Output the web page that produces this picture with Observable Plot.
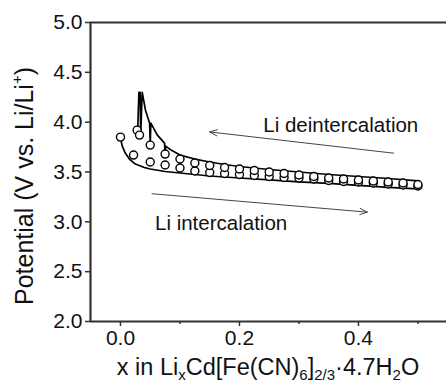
<!DOCTYPE html>
<html>
<head>
<meta charset="utf-8">
<script src="https://cdn.jsdelivr.net/npm/d3@7"></script>
<script src="https://cdn.jsdelivr.net/npm/@observablehq/plot@0.6"></script>
<style>
  html, body { margin: 0; padding: 0; background: #fff; }
  #chart svg { display: block; }
</style>
</head>
<body>
<div id="chart"></div>
<script>
// ---- data ----
const yTicks = [2.0, 2.5, 3.0, 3.5, 4.0, 4.5, 5.0];
const xTicks = [0.0, 0.2, 0.4];
const xMinorTicks = [0.1, 0.3, 0.5];

// Li deintercalation (charge) curve, path order
const chargeX = [0.5, 0.45, 0.4, 0.35, 0.3, 0.25, 0.2, 0.175, 0.15, 0.125, 0.1, 0.085, 0.076, 0.075, 0.074, 0.062, 0.051, 0.05, 0.049, 0.042, 0.0365, 0.034, 0.033, 0.031, 0.029];
const chargeV = [3.41, 3.435, 3.455, 3.475, 3.50, 3.525, 3.555, 3.575, 3.60, 3.63, 3.67, 3.72, 3.76, 3.69, 3.79, 3.87, 3.99, 3.78, 3.99, 4.12, 4.30, 3.88, 4.30, 4.30, 3.93];

// Li intercalation (discharge) curve
const dischargeX = [0.0, 0.003, 0.008, 0.015, 0.025, 0.04, 0.05, 0.075, 0.1, 0.125, 0.15, 0.2, 0.25, 0.3, 0.35, 0.4, 0.45, 0.5];
const dischargeV = [3.84, 3.76, 3.69, 3.63, 3.58, 3.545, 3.53, 3.505, 3.49, 3.475, 3.46, 3.44, 3.42, 3.40, 3.385, 3.365, 3.345, 3.33];

// relaxed (open-circuit) points
const chargePtsX = [0.028, 0.032, 0.05, 0.075, 0.1, 0.125, 0.15, 0.175, 0.2, 0.225, 0.25, 0.275, 0.3, 0.325, 0.35, 0.375, 0.4, 0.425, 0.45, 0.475, 0.5];
const chargePtsV = [3.92, 3.87, 3.77, 3.68, 3.63, 3.59, 3.565, 3.545, 3.53, 3.515, 3.50, 3.485, 3.47, 3.455, 3.44, 3.43, 3.42, 3.41, 3.40, 3.39, 3.375];
const dischargePtsX = [0.0, 0.022, 0.05, 0.075, 0.1, 0.125, 0.15, 0.175, 0.2, 0.225, 0.25, 0.275, 0.3, 0.325, 0.35, 0.375, 0.4, 0.425, 0.45, 0.475, 0.5];
const dischargePtsV = [3.85, 3.67, 3.60, 3.57, 3.54, 3.51, 3.495, 3.485, 3.475, 3.465, 3.455, 3.445, 3.44, 3.43, 3.415, 3.405, 3.40, 3.39, 3.38, 3.37, 3.36];

// annotations
const arrowLabels = ["Li deintercalation", "Li intercalation"];
const arrowX1 = [0.459, 0.053];
const arrowV1 = [3.689, 3.282];
const arrowX2 = [0.150, 0.415];
const arrowV2 = [3.902, 3.097];
const labelX = [0.240, 0.058];
const labelV = [3.965, 2.98];

// ---- build ----
const toPts = (xs, vs) => xs.map((x, i) => ({x, v: vs[i]}));
const charge = toPts(chargeX, chargeV);
const discharge = toPts(dischargeX, dischargeV);
const chargePts = toPts(chargePtsX, chargePtsV);
const dischargePts = toPts(dischargePtsX, dischargePtsV);
const arrows = arrowLabels.map((t, i) => ({t, x1: arrowX1[i], y1: arrowV1[i], x2: arrowX2[i], y2: arrowV2[i], lx: labelX[i], ly: labelV[i]}));

const X0 = -0.0504, X1 = 0.548;
const axisColor = "#333";
const font = "'Liberation Sans', Arial, sans-serif";

const chart = Plot.plot({
  width: 446,
  height: 383,
  marginLeft: 90,
  marginRight: 0,
  marginTop: 22,
  marginBottom: 62,
  style: {fontFamily: font, background: "#fff", color: "#111"},
  x: {domain: [X0, X1], axis: null},
  y: {domain: [2, 5], axis: null},
  marks: [
    Plot.axisY({ticks: yTicks, tickFormat: d => d.toFixed(1), tickSize: 5, tickPadding: 3, fontSize: 21, label: null, stroke: axisColor, strokeWidth: 1.5}),
    Plot.axisX({ticks: xTicks, tickFormat: d => d.toFixed(1), tickSize: 5, tickPadding: 4, fontSize: 21, label: null, stroke: axisColor, strokeWidth: 1.5}),
    Plot.axisX({ticks: xMinorTicks, tickFormat: () => "", tickSize: 3, label: null, stroke: axisColor, strokeWidth: 1.5}),
    Plot.ruleX([X0], {stroke: axisColor, strokeWidth: 2.2}),
    Plot.ruleY([2], {stroke: axisColor, strokeWidth: 2.2}),
    Plot.ruleY([5], {stroke: axisColor, strokeWidth: 2.2}),
    Plot.line(discharge, {x: "x", y: "v", stroke: "#000", strokeWidth: 1.7, curve: "linear"}),
    Plot.line(charge, {x: "x", y: "v", stroke: "#000", strokeWidth: 1.7, curve: "linear"}),
    Plot.dot(dischargePts, {x: "x", y: "v", r: 4, fill: "#fff", stroke: "#000", strokeWidth: 1.4}),
    Plot.dot(chargePts, {x: "x", y: "v", r: 4, fill: "#fff", stroke: "#000", strokeWidth: 1.4}),
    Plot.arrow(arrows, {x1: "x1", y1: "y1", x2: "x2", y2: "y2", stroke: "#444", strokeWidth: 1, headLength: 12, headAngle: 45}),
    Plot.text(arrows, {x: "lx", y: "ly", text: "t", textAnchor: "start", fontSize: 20.5, fill: "#111"})
  ]
});
document.getElementById("chart").appendChild(chart);

// axis titles with sub/superscripts
const svg = d3.select(chart);
const xl = svg.append("text")
  .attr("x", 268).attr("y", 375)
  .attr("text-anchor", "middle")
  .attr("font-family", font).attr("font-size", 23.5).attr("fill", "#111");
xl.append("tspan").text("x in Li");
xl.append("tspan").attr("font-size", 15).attr("dy", 5).text("x");
xl.append("tspan").attr("dy", -5).text("Cd[Fe(CN)");
xl.append("tspan").attr("font-size", 15).attr("dy", 5).text("6");
xl.append("tspan").attr("dy", -5).text("]");
xl.append("tspan").attr("font-size", 15).attr("dy", 5).text("2/3");
xl.append("tspan").attr("dy", -5).text("·4.7H");
xl.append("tspan").attr("font-size", 15).attr("dy", 5).text("2");
xl.append("tspan").attr("dy", -5).text("O");

const yl = svg.append("text")
  .attr("transform", "translate(33,186) rotate(-90)")
  .attr("text-anchor", "middle")
  .attr("font-family", font).attr("font-size", 25).attr("fill", "#111");
yl.append("tspan").text("Potential (V vs. Li/Li");
yl.append("tspan").attr("font-size", 15).attr("dy", -11).text("+");
yl.append("tspan").attr("dy", 11).text(")");
</script>
</body>
</html>
